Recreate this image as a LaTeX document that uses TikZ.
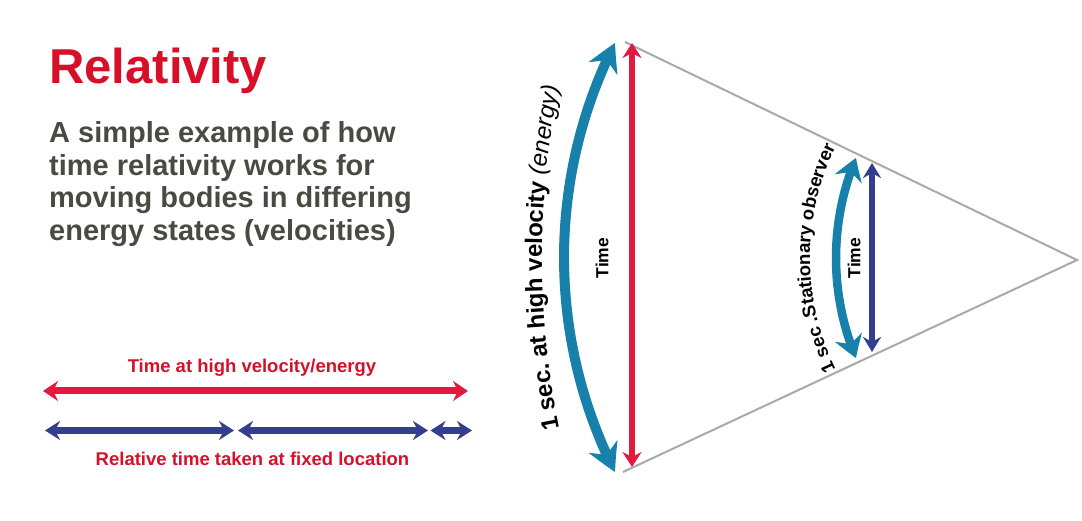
\documentclass[tikz,border=0pt]{standalone}
\usepackage{fontspec}
\setmainfont{Liberation Sans}
\usetikzlibrary{arrows.meta,bending,decorations.text,calc}
\definecolor{titlered}{HTML}{D7102A}
\definecolor{arrred}{HTML}{E5183F}
\definecolor{arcblue}{HTML}{1781AB}
\definecolor{mynavy}{HTML}{353D8F}
\definecolor{subgray}{HTML}{4A4A42}
\definecolor{trigray}{HTML}{A9A9A9}
\begin{document}
\begin{tikzpicture}[x=1pt,y=1pt,
  titletext/.style={inner sep=0pt, anchor=base west, text=titlered, font=\fontsize{49}{49}\selectfont\bfseries},
  subtext/.style={inner sep=0pt, anchor=base west, text=subgray, font=\fontsize{29}{29}\selectfont\bfseries},
  legtext/.style={inner sep=0pt, anchor=base, text=titlered, font=\fontsize{18.5}{18.5}\selectfont\bfseries},
  timelbl/.style={inner sep=0pt, rotate=90, text=black, font=\fontsize{17.5}{17.5}\selectfont\bfseries},
  legred/.style={draw=arrred, line width=7pt,
    arrows={Stealth[length=15pt,width=20pt,inset=5pt]-Stealth[length=15pt,width=20pt,inset=5pt]}},
  legnavy/.style={draw=mynavy, line width=6.5pt,
    arrows={Stealth[length=15pt,width=19pt,inset=5pt]-Stealth[length=15pt,width=19pt,inset=5pt]}},
  vred/.style={draw=arrred, line width=6pt,
    arrows={Stealth[length=15pt,width=19pt,inset=5pt]-Stealth[length=15pt,width=19pt,inset=5pt]}},
  vnavy/.style={draw=mynavy, line width=5.5pt,
    arrows={Stealth[length=15pt,width=18pt,inset=5pt]-Stealth[length=15pt,width=18pt,inset=5pt]}},
  bigarc/.style={draw=arcblue, line width=10pt,
    arrows={Stealth[length=28pt,width=31pt,inset=9pt,bend]-Stealth[length=28pt,width=31pt,inset=9pt,bend]}},
  smallarc/.style={draw=arcblue, line width=8.5pt,
    arrows={Stealth[length=22pt,width=28pt,inset=7pt,bend]-Stealth[length=22pt,width=28pt,inset=7pt,bend]}},
  trisides/.style={draw=trigray, line width=2pt, line join=miter}
]
\useasboundingbox (0,0) rectangle (1082,521);

% Title and subtitle
\node[titletext] (title) at (49,437.5) {Relativity};
\node[subtext] (sub1) at (49,378) {A simple example of how};
\node[subtext] (sub2) at (49,345.5) {time relativity works for};
\node[subtext] (sub3) at (49,313) {moving bodies in differing};
\node[subtext] (sub4) at (49,280.5) {energy states (velocities)};

% Legend
\node[legtext] (leg1) at (252,148) {Time at high velocity/energy};
\coordinate (r1) at (43,130);
\coordinate (r2) at (468,130);
\draw[legred] (r1) -- (r2);
\coordinate (n1) at (45,90.5);
\coordinate (n2) at (234,90.5);
\coordinate (n3) at (238,90.5);
\coordinate (n4) at (428,90.5);
\coordinate (n5) at (430.5,90.5);
\coordinate (n6) at (472,90.5);
\draw[legnavy] (n1) -- (n2);
\draw[legnavy] (n3) -- (n4);
\draw[legnavy] (n5) -- (n6);
\node[legtext] (leg2) at (252.5,55) {Relative time taken at fixed location};

% Triangle sides
\coordinate (tTop) at (625,479);
\coordinate (tApex) at (1077,261);
\coordinate (tBot) at (623,49);
\draw[trisides] (tTop) -- (tApex) -- (tBot);

% Big arc and red vertical arrow
\coordinate (bigC) at (1040.6,263.5);
\coordinate (bigA) at ($(bigC)+(153.25:476.6)$);
\draw[bigarc] (bigA) arc[start angle=153.25, end angle=206.75, radius=476.6];
\coordinate (vr1) at (632,478);
\coordinate (vr2) at (632,54);
\draw[vred] (vr1) -- (vr2);
\node[timelbl] (time1) at (602,263) {Time};

% Small arc and navy vertical arrow
\coordinate (smC) at (1096,263);
\coordinate (smA) at ($(smC)+(157.38:260)$);
\draw[smallarc] (smA) arc[start angle=157.38, end angle=202.62, radius=260];
\coordinate (vn1) at (872,358);
\coordinate (vn2) at (872,169);
\draw[vnavy] (vn1) -- (vn2);
\node[timelbl] (time2) at (854,263) {Time};

% Curved labels
\coordinate (bigT) at ($(1403,263)+(195:861)$);
\path[decorate, decoration={text along path, text align=center,
  text={|\fontsize{24}{24}\selectfont\bfseries|1 sec. at high velocity |\fontsize{24}{24}\selectfont\mdseries\itshape|(energy)}}]
  (bigT) arc[start angle=195, end angle=165, radius=861];
\coordinate (smT) at ($(1064,263)+(212:254)$);
\path[decorate, decoration={text along path, text align=center,
  text={|\fontsize{18.5}{18.5}\selectfont\bfseries|1 sec .Stationary observer}}]
  (smT) arc[start angle=212, end angle=148, radius=254];
\end{tikzpicture}
\end{document}
